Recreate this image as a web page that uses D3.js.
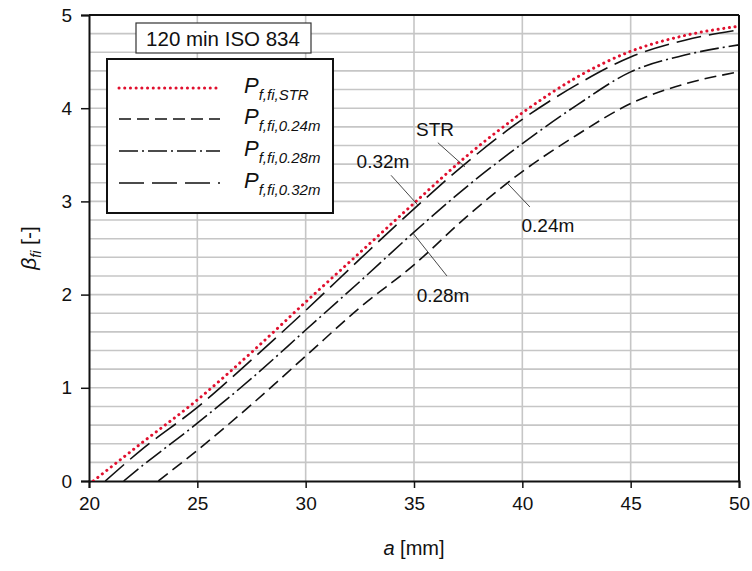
<!DOCTYPE html>
<html><head><meta charset="utf-8">
<script src="https://cdn.jsdelivr.net/npm/d3@7"></script>
<style>
body{margin:0;background:#fff;}
text{font-family:"Liberation Sans",Arial,sans-serif;fill:#111;}
</style></head>
<body><svg id="c" width="752" height="571"></svg>
<script>
// ---- data ----
const xTicks = [20, 25, 30, 35, 40, 45, 50];
const yTicks = [0, 1, 2, 3, 4, 5];
const aSTR  = [20.2, 22.5, 25, 27.5, 30, 32.5, 35, 37.5, 40, 42.5, 45, 47.5, 50];
const bSTR  = [0, 0.42, 0.87, 1.38, 1.92, 2.45, 2.98, 3.5, 3.95, 4.33, 4.61, 4.78, 4.88];
const a032  = [20.75, 22.5, 25, 27.5, 30, 32.5, 35, 37.5, 40, 42.5, 45, 47.5, 50];
const b032  = [0, 0.35, 0.79, 1.3, 1.83, 2.38, 2.92, 3.43, 3.88, 4.25, 4.55, 4.73, 4.84];
const a028  = [21.6, 22.5, 25, 27.5, 30, 32.5, 35, 37.5, 40, 42.5, 45, 47.5, 50];
const b028  = [0, 0.17, 0.62, 1.1, 1.62, 2.14, 2.67, 3.17, 3.62, 4.03, 4.39, 4.57, 4.68];
const a024  = [23.2, 25, 27.5, 30, 32.5, 35, 37.5, 40, 42.5, 45, 47.5, 50];
const b024  = [0, 0.33, 0.82, 1.34, 1.86, 2.32, 2.85, 3.32, 3.71, 4.05, 4.26, 4.39];
const labelText = ["STR", "0.32m", "0.28m", "0.24m"];
// annotation anchors in data units
const annLabelA = [35.97, 33.57, 36.34, 41.18];
const annLabelB = [3.70, 3.36, 1.92, 2.67];
const annFromA  = [36.1, 33.94, 36.52, 40.35];
const annFromB  = [3.63, 3.28, 2.2, 2.94];
const annToA    = [37.35, 35.18, 34.95, 39.29];
const annToB    = [3.37, 2.96, 2.66, 3.2];

// ---- layout ----
const L = 89, R = 739, T = 15, B = 481;
const svg = d3.select("#c");
const x = d3.scaleLinear().domain([20, 50]).range([L, R]);
const y = d3.scaleLinear().domain([0, 5]).range([B, T]);

// grid
const g = svg.append("g");
g.selectAll(".hg").data(d3.range(1, 25).map(i => i * 0.2)).join("line")
  .attr("x1", L).attr("x2", R).attr("y1", d => y(d)).attr("y2", d => y(d))
  .attr("stroke", "#c6c6c6").attr("stroke-width", 1.6);
g.selectAll(".vg").data(xTicks.slice(1, -1)).join("line")
  .attr("y1", T).attr("y2", B).attr("x1", d => x(d)).attr("x2", d => x(d))
  .attr("stroke", "#c6c6c6").attr("stroke-width", 1.6);

// frame top/right
svg.append("line").attr("x1", L).attr("x2", R).attr("y1", T).attr("y2", T).attr("stroke", "#111").attr("stroke-width", 2);
svg.append("line").attr("x1", R).attr("x2", R).attr("y1", T).attr("y2", B).attr("stroke", "#111").attr("stroke-width", 2);

// axes
const xAxis = svg.append("g").attr("transform", `translate(0,${B})`)
  .call(d3.axisBottom(x).tickValues(xTicks).tickFormat(d3.format("d")).tickSize(7).tickPadding(9));
const yAxis = svg.append("g").attr("transform", `translate(${L},0)`)
  .call(d3.axisLeft(y).tickValues(yTicks).tickFormat(d3.format("d")).tickSize(8).tickPadding(9));
[xAxis, yAxis].forEach(ax => {
  ax.select(".domain").attr("stroke", "#111").attr("stroke-width", 2);
  ax.selectAll(".tick line").attr("stroke", "#111").attr("stroke-width", 1.5);
  ax.selectAll(".tick text").attr("font-size", 19).attr("font-family", "Liberation Sans, Arial, sans-serif").attr("fill", "#111");
});

// axis titles
const xt = svg.append("text").attr("x", (L + R) / 2).attr("y", 555).attr("text-anchor", "middle").attr("font-size", 20);
xt.append("tspan").attr("font-style", "italic").text("a");
xt.append("tspan").text(" [mm]");
const yt = svg.append("text").attr("transform", `translate(36,${(T + B) / 2}) rotate(-90)`).attr("text-anchor", "middle").attr("font-size", 21);
yt.append("tspan").attr("font-style", "italic").text("β");
yt.append("tspan").attr("font-style", "italic").attr("font-size", 14).attr("dy", 5).text("fi");
yt.append("tspan").attr("dy", -5).text(" [-]");

// curves
const styles = {
  "STR":   {stroke: "#e0102e", dash: "0.1 5.6", width: 3, cap: "round"},
  "0.24m": {stroke: "#111", dash: "12 6", width: 1.6, cap: "butt"},
  "0.28m": {stroke: "#111", dash: "19 4 2 4", width: 1.6, cap: "butt"},
  "0.32m": {stroke: "#111", dash: "25 8", width: 1.6, cap: "butt"}
};
const dataMap = {
  "STR": d3.zip(aSTR, bSTR), "0.24m": d3.zip(a024, b024),
  "0.28m": d3.zip(a028, b028), "0.32m": d3.zip(a032, b032)
};
const line = d3.line().x(d => x(d[0])).y(d => y(d[1])).curve(d3.curveMonotoneX);
svg.append("clipPath").attr("id", "clip").append("rect").attr("x", L).attr("y", T - 2).attr("width", R - L).attr("height", B - T + 2);
const cg = svg.append("g").attr("clip-path", "url(#clip)");
["0.24m", "0.28m", "0.32m", "STR"].forEach(k => {
  const s = styles[k];
  cg.append("path").datum(dataMap[k]).attr("d", line).attr("fill", "none")
    .attr("stroke", s.stroke).attr("stroke-width", s.width).attr("stroke-dasharray", s.dash)
    .attr("stroke-linecap", s.cap);
});

// annotations
labelText.forEach((t, i) => {
  svg.append("line").attr("x1", x(annFromA[i])).attr("y1", y(annFromB[i]))
    .attr("x2", x(annToA[i])).attr("y2", y(annToB[i])).attr("stroke", "#333").attr("stroke-width", 0.9);
  svg.append("text").attr("x", x(annLabelA[i])).attr("y", y(annLabelB[i])).attr("text-anchor", "middle")
    .attr("font-size", 19).text(t);
});

// title box
svg.append("rect").attr("x", 136).attr("y", 23).attr("width", 175).attr("height", 30)
  .attr("fill", "#fff").attr("stroke", "#333").attr("stroke-width", 1.2);
svg.append("text").attr("x", 223).attr("y", 46).attr("text-anchor", "middle").attr("font-size", 20.5).text("120 min ISO 834");

// legend
svg.append("rect").attr("x", 107).attr("y", 59).attr("width", 226).attr("height", 154)
  .attr("fill", "#fff").attr("stroke", "#111").attr("stroke-width", 2);
const legOrder = ["STR", "0.24m", "0.28m", "0.32m"];
const legY = [88, 119, 151, 183];
legOrder.forEach((k, i) => {
  const s = styles[k];
  svg.append("line").attr("x1", 119).attr("x2", 220).attr("y1", legY[i]).attr("y2", legY[i])
    .attr("stroke", s.stroke).attr("stroke-width", s.width).attr("stroke-dasharray", s.dash).attr("stroke-linecap", s.cap);
  const t = svg.append("text").attr("x", 244).attr("y", legY[i] + 5).attr("font-style", "italic").attr("font-size", 22);
  t.append("tspan").text("P");
  t.append("tspan").attr("font-size", 15).attr("dy", 7).text("f,fi," + k);
});
</script></body></html>
